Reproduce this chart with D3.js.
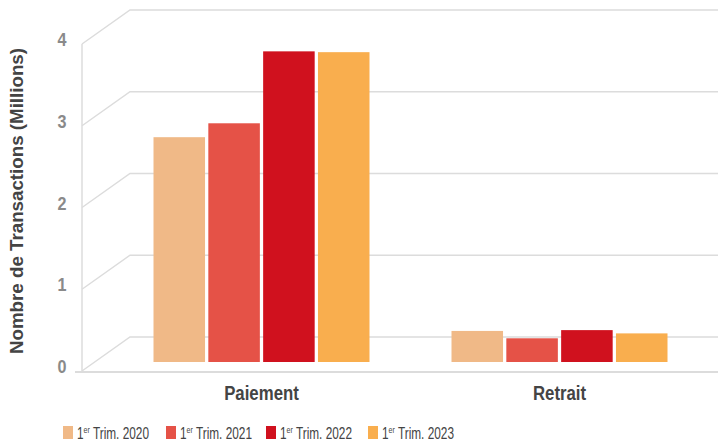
<!DOCTYPE html>
<html><head><meta charset="utf-8">
<script src="https://cdn.jsdelivr.net/npm/d3@7"></script>
<style>
html,body{margin:0;padding:0;background:#fff;}
svg{display:block;}
text{font-family:"Liberation Sans",Arial,sans-serif;}
</style></head>
<body>
<svg id="chart" width="718" height="441"></svg>
<script>
const categories = ["Paiement", "Retrait"];
const seriesNames = ["2020", "2021", "2022", "2023"];
const v2020 = [2.75, 0.38];
const v2021 = [2.92, 0.29];
const v2022 = [3.80, 0.39];
const v2023 = [3.79, 0.35];
const yTicks = [0, 1, 2, 3, 4];
const colors = ["#F0B987", "#E55247", "#D0111E", "#F9AE4E"];

const seriesValues = [v2020, v2021, v2022, v2023];
const svg = d3.select("#chart");

// depth geometry
const frontX = 82, backX = 130, depthDy = 34;
const yBack = d3.scaleLinear().domain([0, 4]).range([337, 10]);
const yFront = v => yBack(v) + depthDy;
const yBar = d3.scaleLinear().domain([0, 4]).range([362, 35]);

const grid = svg.append("g");
yTicks.forEach(t => {
  grid.append("path")
    .attr("d", `M${frontX},${yFront(t)} L${backX},${yBack(t)} L718,${yBack(t)}`)
    .attr("fill", "none").attr("stroke", "#dcdcdc").attr("stroke-width", 1.5);
});
grid.append("line").attr("x1", frontX).attr("x2", frontX)
  .attr("y1", yFront(4)).attr("y2", yFront(0))
  .attr("stroke", "#dcdcdc").attr("stroke-width", 1.5);
grid.append("line").attr("x1", 75).attr("x2", 718)
  .attr("y1", yFront(0) + 1).attr("y2", yFront(0) + 1)
  .attr("stroke", "#dcdcdc").attr("stroke-width", 2);

// tick labels (condensed look)
svg.append("g").selectAll("text").data(yTicks).join("text")
  .attr("transform", d => `translate(62,${yFront(d) - 3}) scale(0.85,1)`)
  .attr("text-anchor", "middle").attr("dominant-baseline", "middle")
  .attr("font-size", 19).attr("font-weight", "bold").attr("fill", "#8a8a8a")
  .text(d => d);

// bars
const x0 = d3.scaleBand().domain(categories).range([112.5, 708.5]).paddingInner(0).paddingOuter(0);
const x1 = d3.scaleBand().domain(seriesNames).range([0, 216]).paddingInner(0.06);
const groupOffset = (x0.bandwidth() - 216) / 2;

categories.forEach((c, ci) => {
  const g = svg.append("g").attr("transform", `translate(${x0(c) + groupOffset},0)`);
  seriesNames.forEach((s, si) => {
    const v = seriesValues[si][ci];
    g.append("rect")
      .attr("x", x1(s)).attr("width", x1.bandwidth())
      .attr("y", yBar(v)).attr("height", yBar(0) - yBar(v))
      .attr("fill", colors[si]);
  });
});

// category labels
svg.append("g").selectAll("text").data(categories).join("text")
  .attr("transform", d => `translate(${x0(d) + x0.bandwidth() / 2},394.5) scale(0.84,1)`)
  .attr("text-anchor", "middle").attr("dominant-baseline", "middle")
  .attr("font-size", 20).attr("font-weight", "bold").attr("fill", "#444")
  .text(d => d);

// y title
svg.append("text")
  .attr("transform", "translate(18,201) rotate(-90)")
  .attr("text-anchor", "middle").attr("dominant-baseline", "middle")
  .attr("font-size", 18.5).attr("font-weight", "bold").attr("fill", "#444")
  .attr("textLength", 306).attr("lengthAdjust", "spacingAndGlyphs")
  .text("Nombre de Transactions (Millions)");

// legend
const legendX = [63, 166, 266, 368];
const lg = svg.append("g");
seriesNames.forEach((s, i) => {
  const g = lg.append("g").attr("transform", `translate(${legendX[i]},0)`);
  g.append("rect").attr("x", 0).attr("y", 426).attr("width", 10).attr("height", 13).attr("fill", colors[i]);
  const t = g.append("text").attr("transform", "translate(14,438.5) scale(0.74,1)")
    .attr("font-size", 16).attr("fill", "#444");
  t.append("tspan").text("1");
  t.append("tspan").attr("font-size", 9.5).attr("dy", -6).text("er");
  t.append("tspan").attr("dy", 6).text(" Trim. " + s);
});
</script>
</body></html>
